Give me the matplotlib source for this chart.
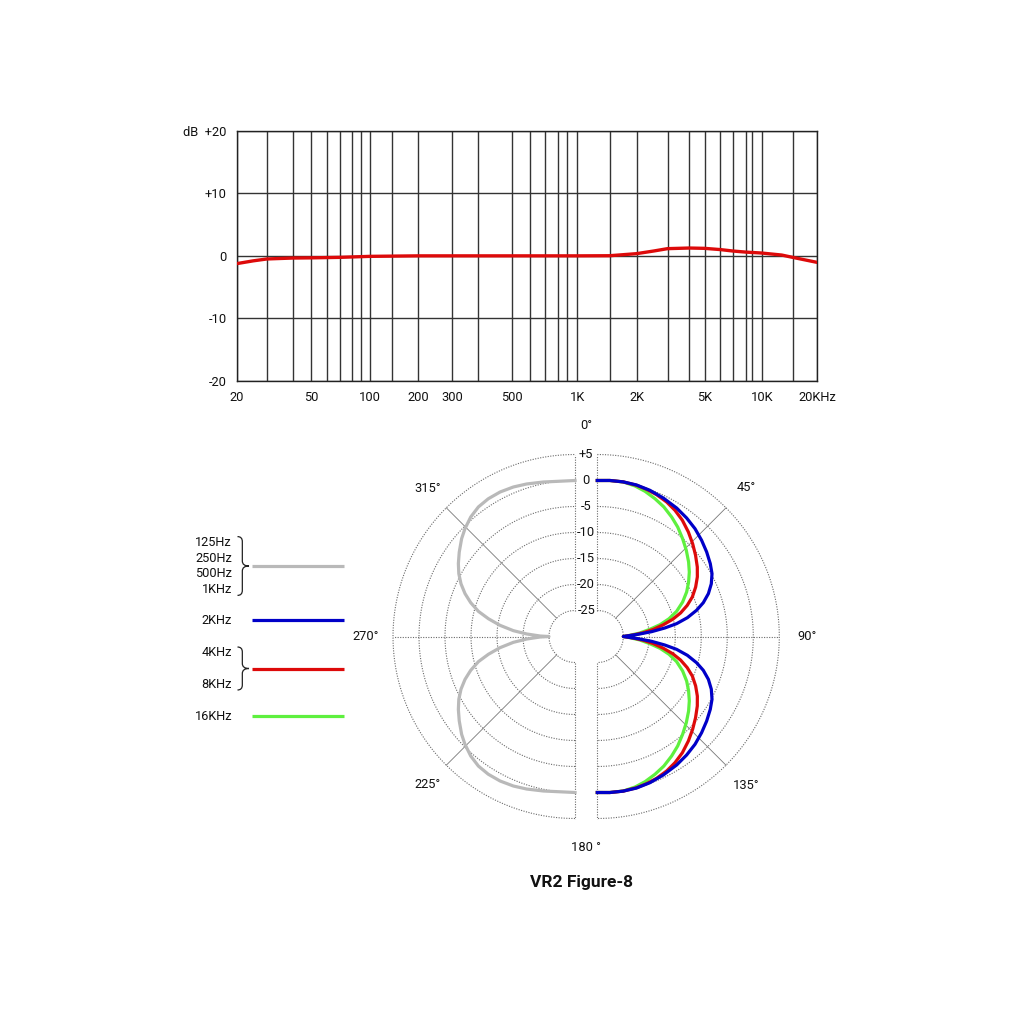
import numpy as np
import matplotlib
matplotlib.use("Agg")
import matplotlib.pyplot as plt
from matplotlib.path import Path
from matplotlib.patches import PathPatch
from matplotlib.transforms import offset_copy

plt.rcParams['font.family'] = ['Roboto', 'DejaVu Sans']

# ---------------- Frequency response data ----------------
FR_FREQ = [20, 25, 30, 40, 50, 70, 100, 200, 500, 1000, 1500, 2000, 2500, 3000,
           4000, 5000, 6000, 7000, 8000, 10000, 13000, 15000, 20000]
FR_DB = [-1.25, -0.8, -0.5, -0.35, -0.32, -0.24, -0.08, 0.0, 0.0, 0.0, 0.02, 0.35,
         0.77, 1.15, 1.25, 1.2, 1.0, 0.77, 0.6, 0.45, 0.13, -0.24, -1.05]

X_TICK_FREQS = [20, 50, 100, 200, 300, 500, 1000, 2000, 5000, 10000, 20000]
X_TICK_LABELS = ['20', '50', '100', '200', '300', '500', '1K', '2K', '5K', '10K', '20KHz']
GRID_FREQS = [30, 40, 50, 60, 70, 80, 90, 100, 150, 200, 300, 400, 500, 600, 700,
              800, 900, 1000, 1500, 2000, 3000, 4000, 5000, 6000, 7000, 8000, 9000,
              10000, 15000]
Y_TICKS = [-20, -10, 0, 10, 20]
Y_TICK_LABELS = ['-20', '-10', '0', '+10', 'dB  +20']

# calibration of the (non-uniform) log chart paper used in the original
PAPER_FREQS = [20, 30, 40, 50, 60, 70, 80, 90, 100, 150, 200, 300, 400, 500, 600,
               700, 800, 900, 1000, 1500, 2000, 3000, 4000, 5000, 6000, 7000, 8000,
               9000, 10000, 15000, 20000]
PAPER_POS = [236.5, 266.8, 292.7, 311.3, 327.2, 340.0, 351.7, 360.7, 370.3, 392.0,
             418.0, 452.2, 477.7, 511.5, 530.0, 545.3, 558.3, 567.3, 577.2, 609.6,
             636.5, 667.5, 689.2, 704.5, 720.4, 733.0, 745.7, 751.7, 761.7, 792.6,
             817.3]

# ---------------- Polar data (angle from 0 deg, dB) ----------------
GRAY_ANG = [0, 5.5, 11.6, 17.6, 22.4, 27.4, 32.2, 36.7, 41.1, 45.6, 49.2, 53.9, 58,
            61.6, 65.2, 68.7, 72, 75.4, 78.4, 81.5, 84.6, 87, 89.2, 90]
GRAY_DB = [0, 0.0, 0.33, 0.77, 1.1, 1.3, 1.3, 1.08, 0.5, -0.38, -1.2, -2.45, -3.55,
           -4.6, -5.85, -7.3, -8.9, -10.8, -13.0, -15.4, -18.1, -20.7, -23.3, -25]
BLUE_ANG = [0, 4.6, 9.5, 14.5, 19.8, 25.5, 31.7, 37, 42.2, 47.3, 52.3, 57.2, 61.3,
            65.2, 68.9, 72.3, 75.2, 78.2, 80.8, 82.8, 84.9, 86.9, 90]
BLUE_DB = [0, 0.1, 0.15, 0.1, -0.12, -0.5, -0.96, -1.46, -2.02, -2.71, -3.42, -4.15,
           -4.85, -5.85, -7.1, -8.6, -10.25, -12.3, -14.55, -16.9, -19.5, -22.1, -25]
RED_ANG = [0, 4.6, 9.5, 14.5, 18.5, 22.7, 27.3, 31.6, 36.2, 41.1, 45.8, 50.4, 55.2,
           59.2, 63.3, 67.4, 70.9, 74.2, 77.1, 79.9, 82.7, 85.3, 87.6, 90]
RED_DB = [0, 0.1, 0.15, 0.05, -0.15, -0.44, -0.9, -1.5, -2.3, -3.35, -4.42, -5.48,
          -6.58, -7.6, -8.83, -10.2, -11.7, -13.35, -15.1, -17.1, -19.1, -21.1, -23.1, -25]
GREEN_ANG = [0, 4.6, 9.6, 14.1, 18.2, 22.7, 27.2, 31.9, 36.3, 41.1, 45.9, 50.8, 55,
             59.2, 63.5, 68, 72.4, 76.1, 79.3, 82.2, 85.3, 87.9, 90]
GREEN_DB = [0, 0.1, 0.13, -0.16, -0.61, -1.27, -1.99, -2.94, -3.88, -5.04, -6.17,
            -7.34, -8.4, -9.56, -10.8, -12.3, -14.0, -15.8, -17.7, -19.8, -21.8, -23.7, -25]

RING_DB = [-25, -20, -15, -10, -5, 0, 5]
RING_LABELS = ['-25', '-20', '-15', '-10', '-5', '0', '+5']
R_MIN, R_MAX = -30, 5

LEGEND_GROUPS = [['125Hz', '250Hz', '500Hz', '1KHz'], ['2KHz'], ['4KHz', '8KHz'], ['16KHz']]
LEGEND_COLORS = ['#b9b9b9', '#0000c8', '#dd0a0a', '#5ef03e']
GRAY, BLUE, RED, GREEN = LEGEND_COLORS
TITLE = 'VR2 Figure-8'

# ---------------- Figure ----------------
W = H = 1024
fig = plt.figure(figsize=(W / 100, H / 100), dpi=100)
fig.patch.set_facecolor('white')


def rect(x0, y0, x1, y1):
    return [x0 / W, 1 - y1 / H, (x1 - x0) / W, (y1 - y0) / H]


# ---- frequency response axes
ax = fig.add_axes(rect(236.5, 130.7, 817.3, 381))
logcal = np.log10(PAPER_FREQS)
poscal = np.array(PAPER_POS)


def fwd(f):
    f = np.asarray(f, dtype=float)
    return np.interp(np.log10(np.clip(f, 1e-6, None)), logcal, poscal)


def inv(p):
    return 10 ** np.interp(np.asarray(p, dtype=float), poscal, logcal)


ax.set_xscale('function', functions=(fwd, inv))
ax.set_xlim(20, 20000)
ax.set_ylim(-20, 20)
ax.set_xticks(X_TICK_FREQS)
ax.set_xticklabels(X_TICK_LABELS)
ax.set_xticks(GRID_FREQS, minor=True)
ax.set_yticks(Y_TICKS)
ax.set_yticklabels(Y_TICK_LABELS)
ax.tick_params(which='both', length=0)
ax.tick_params(axis='x', pad=7, labelsize=9.3, colors='#111')
ax.tick_params(axis='y', pad=7, labelsize=9.3, colors='#111')
ax.grid(True, which='both', color='#333333', lw=1.0)
for s in ax.spines.values():
    s.set_color('#222')
    s.set_lw(1.0)
ax.plot(FR_FREQ, FR_DB, color=RED, lw=2.4, solid_capstyle='butt', zorder=3)

# ---- polar half axes
R_PX = (R_MAX - R_MIN) * 5.2
CY = 636.5
centers = {'left': 575.0, 'right': 597.3}
axes = {}
for side, cx in centers.items():
    pa = fig.add_axes(rect(cx - R_PX, CY - R_PX, cx + R_PX, CY + R_PX), projection='polar')
    pa.set_theta_zero_location('N')
    pa.set_theta_direction(-1)
    pa.set_ylim(R_MIN, R_MAX)
    pa.set_axis_off()
    axes[side] = pa

dot = dict(color='#6a6a6a', lw=0.8, ls=(0, (1, 1.3)), clip_on=False)
solid = dict(color='#777777', lw=0.6, clip_on=False)
for side, (t0, t1) in {'left': (180, 360), 'right': (0, 180)}.items():
    pa = axes[side]
    th = np.deg2rad(np.linspace(t0, t1, 181))
    for r in RING_DB:
        pa.plot(th, np.full_like(th, r), **dot)
    for a in (t0, t1, (t0 + t1) / 2):
        pa.plot(np.deg2rad([a, a]), [RING_DB[0], RING_DB[-1]], **dot)
    for a in (t0 + 45, t1 - 45):
        pa.plot(np.deg2rad([a, a]), [RING_DB[0], RING_DB[-1]], **solid)


def right_curve(ang, db):
    ang = np.asarray(ang, float)
    db = np.asarray(db, float)
    th = np.concatenate([ang, 180 - ang[::-1]])
    return np.deg2rad(th), np.concatenate([db, db[::-1]])


def left_curve(ang, db):
    ang = np.asarray(ang, float)
    db = np.asarray(db, float)
    th = np.concatenate([360 - ang, 180 + ang[::-1]])
    return np.deg2rad(th), np.concatenate([db, db[::-1]])


lw_c = 2.3
th, r = left_curve(GRAY_ANG, GRAY_DB)
axes['left'].plot(th, r, color=GRAY, lw=lw_c, clip_on=False, zorder=3,
                  solid_joinstyle='round')
for ang, db, col in [(GREEN_ANG, GREEN_DB, GREEN), (RED_ANG, RED_DB, RED),
                     (BLUE_ANG, BLUE_DB, BLUE)]:
    th, r = right_curve(ang, db)
    axes['right'].plot(th, r, color=col, lw=lw_c, clip_on=False, zorder=3,
                       solid_joinstyle='round')

# ring labels between the two halves
pr = axes['right']
mid_off = offset_copy(pr.transData, fig=fig, x=-(centers['right'] - centers['left']) / 2,
                      y=0, units='dots')
for r, lab in zip(RING_DB, RING_LABELS):
    pr.text(0, r, lab, transform=mid_off, ha='center', va='center', fontsize=9.3,
            color='#111', clip_on=False)
pr.text(0, 10.5, '0°', transform=mid_off, ha='center', va='center', fontsize=9.3,
        color='#111', clip_on=False)
pr.text(np.pi, 10.6, '180 °', transform=mid_off, ha='center', va='center', fontsize=9.3,
        color='#111', clip_on=False)
for a in (45, 90, 135):
    pr.text(np.deg2rad(a), 10.4, f'{a}°', ha='center', va='center', fontsize=9.3,
            color='#111', clip_on=False)
for a in (225, 270, 315):
    axes['left'].text(np.deg2rad(a), 10.2, f'{a}°', ha='center', va='center',
                      fontsize=9.3, color='#111', clip_on=False)

# ---- legend (drawn in a pixel-space overlay)
lg = fig.add_axes([0, 0, 1, 1])
lg.set_xlim(0, W)
lg.set_ylim(H, 0)
lg.set_axis_off()
lg.patch.set_alpha(0)

group_centers = [566, 620, 668.5, 716]
group_spacing = [15.6, 0, 31, 0]
text_right = 232
line_x = (252, 344)


def brace(x0, ytop, ybot, w):
    xm = x0 + w * 0.42
    ym = (ytop + ybot) / 2
    h = 5
    verts = [(x0, ytop), (xm, ytop), (xm, ytop + h),
             (xm, ym - h), (xm, ym), (x0 + w, ym),
             (xm, ym), (xm, ym + h),
             (xm, ybot - h), (xm, ybot), (x0, ybot)]
    codes = [Path.MOVETO, Path.CURVE3, Path.CURVE3,
             Path.LINETO, Path.CURVE3, Path.CURVE3,
             Path.CURVE3, Path.CURVE3,
             Path.LINETO, Path.CURVE3, Path.CURVE3]
    return PathPatch(Path(verts, codes), fill=False, lw=0.9, ec='#222')


for labels, col, yc, sp in zip(LEGEND_GROUPS, LEGEND_COLORS, group_centers, group_spacing):
    n = len(labels)
    for i, lab in enumerate(labels):
        y = yc + (i - (n - 1) / 2) * sp
        lg.text(text_right, y, lab, ha='right', va='center', fontsize=9.2, color='#111')
    if n > 1:
        half = (n - 1) / 2 * sp + 6
        lg.add_patch(brace(237.5, yc - half, yc + half, 11.5))
    lg.plot(line_x, [yc, yc], color=col, lw=2.3, solid_capstyle='butt')

fig.text(581 / W, 1 - 883 / H, TITLE, ha='center', va='center', fontsize=12.5,
         fontweight='bold', color='#111')

fig.savefig('out.png', dpi=100, facecolor='white')
